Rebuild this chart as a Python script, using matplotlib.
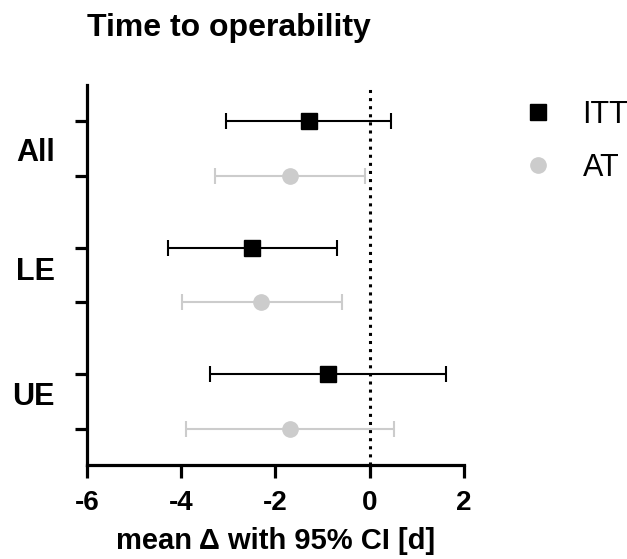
import matplotlib
matplotlib.use("Agg")
from matplotlib import pyplot as plt
from matplotlib.lines import Line2D
import numpy as np

groups = ["All", "LE", "UE"]
itt_mean = [-1.29, -2.49, -0.89]
itt_lo = [-3.04, -4.29, -3.40]
itt_hi = [0.46, -0.69, 1.62]
at_mean = [-1.70, -2.30, -1.70]
at_lo = [-3.28, -3.99, -3.89]
at_hi = [-0.11, -0.59, 0.51]

plt.rcParams['font.family'] = ['Liberation Sans', 'DejaVu Sans']
plt.rcParams['axes.unicode_minus'] = False

gray = "#cccccc"
off = 0.215
label_y = [0.034, 0.979, 1.96]

fig = plt.figure(figsize=(6.27, 5.59), dpi=100)
ax = fig.add_axes([87/627, 1-465/559, (464-87)/627, (465-85)/559])

pos = np.arange(len(groups))
y_itt = pos - off
y_at = pos + off

itt_mean = np.array(itt_mean)
at_mean = np.array(at_mean)
ax.axvline(0, color="black", linestyle=":", lw=2.2, zorder=1)
ax.errorbar(itt_mean, y_itt, xerr=[itt_mean-np.array(itt_lo), np.array(itt_hi)-itt_mean],
            fmt="s", color="black", ms=11, ecolor="black", elinewidth=1.5,
            capsize=6, capthick=1.5, zorder=3)
ax.errorbar(at_mean, y_at, xerr=[at_mean-np.array(at_lo), np.array(at_hi)-at_mean],
            fmt="o", color=gray, ms=11, ecolor=gray, elinewidth=1.5,
            capsize=6, capthick=1.5, zorder=3)

ax.set_xlim(-6, 2)
ax.set_ylim(2.5, -0.5)
ax.set_xticks([-6, -4, -2, 0, 2])
ax.set_yticks(list(y_itt) + list(y_at))
ax.set_yticklabels([])
for s in ["top", "right"]:
    ax.spines[s].set_visible(False)
for s in ["left", "bottom"]:
    ax.spines[s].set_linewidth(2.3)
ax.tick_params(axis="both", width=2.3, length=9, labelsize=20)
for t in ax.get_xticklabels():
    t.set_fontweight("bold")
ax.tick_params(axis="x", pad=9)

for g, yy in zip(groups, label_y):
    ax.text(-0.085, yy, g, transform=ax.get_yaxis_transform(), ha="right", va="center",
            fontsize=22, fontweight="bold")

ax.set_xlabel("mean Δ with 95% CI [d]", fontsize=21, fontweight="bold", labelpad=8)
fig.text(229/627, 1-36/559, "Time to operability", ha="center", va="baseline",
         fontsize=23, fontweight="bold")

handles = [Line2D([], [], marker="s", color="black", ls="none", ms=11),
           Line2D([], [], marker="o", color=gray, ls="none", ms=11)]
fig.legend(handles, ["ITT", "AT"], loc="upper left", bbox_to_anchor=(523/627, 1-100/559),
           frameon=False, fontsize=22, handlelength=1.0, handletextpad=0.95,
           labelspacing=0.75, borderpad=0, borderaxespad=0)

plt.savefig("out.png", dpi=100)
plt.close()
